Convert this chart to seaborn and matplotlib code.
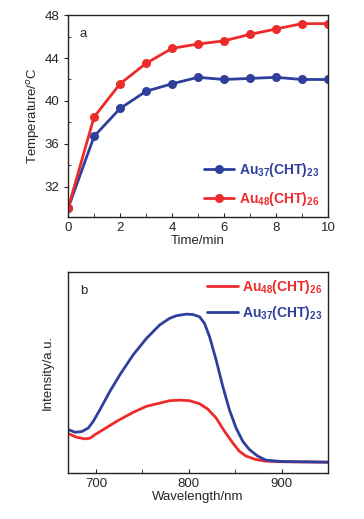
import matplotlib
matplotlib.use('Agg')
import matplotlib.pyplot as plt
from matplotlib.ticker import MultipleLocator
import pandas as pd
import seaborn as sns

# ---------------------------
# Data
# ---------------------------
time_min = [0, 1, 2, 3, 4, 5, 6, 7, 8, 9, 10]
temp_au37 = [30.0, 36.7, 39.3, 40.9, 41.6, 42.2, 42.0, 42.1, 42.2, 42.0, 42.0]
temp_au48 = [30.0, 38.5, 41.6, 43.5, 44.9, 45.3, 45.6, 46.2, 46.7, 47.2, 47.2]

wl_au37 = [670.3, 677.5, 684.6, 691.8, 697.1, 704.3, 715.0, 725.8, 740.1, 754.4,
           768.7, 779.4, 786.6, 797.3, 804.5, 811.6, 817.0, 822.4, 829.5, 836.7,
           843.8, 851.0, 858.2, 865.3, 874.3, 883.2, 901.1, 919.0, 949.5]
int_au37 = [0.215, 0.202, 0.205, 0.223, 0.256, 0.314, 0.405, 0.488, 0.587, 0.669,
            0.736, 0.769, 0.782, 0.790, 0.788, 0.777, 0.744, 0.678, 0.562, 0.430,
            0.314, 0.223, 0.157, 0.116, 0.083, 0.063, 0.056, 0.055, 0.053]

wl_au48 = [670.3, 679.2, 688.2, 693.6, 698.9, 707.9, 722.2, 740.1, 754.4, 768.7,
           779.4, 790.2, 800.9, 811.6, 820.6, 829.5, 838.5, 847.4, 854.6, 861.8,
           872.5, 883.2, 901.1, 949.5]
int_au48 = [0.195, 0.177, 0.169, 0.172, 0.190, 0.215, 0.256, 0.301, 0.331, 0.347,
            0.359, 0.362, 0.359, 0.344, 0.317, 0.273, 0.207, 0.149, 0.107, 0.083,
            0.066, 0.058, 0.055, 0.053]

lab37 = r'$\mathbf{Au_{37}(CHT)_{23}}$'
lab48 = r'$\mathbf{Au_{48}(CHT)_{26}}$'
blue = '#2F3F9C'
red = '#EE2B2B'

# ---------------------------
# Style
# ---------------------------
sns.set_style('ticks')
plt.rcParams['font.family'] = ['Liberation Sans', 'DejaVu Sans']
plt.rcParams['mathtext.fontset'] = 'custom'
plt.rcParams['mathtext.rm'] = 'Liberation Sans'
plt.rcParams['mathtext.bf'] = 'Liberation Sans:bold'
plt.rcParams['font.size'] = 9.5
plt.rcParams['axes.linewidth'] = 1.0
plt.rcParams['axes.edgecolor'] = '#222222'

fs = 9.5

fig = plt.figure(figsize=(3.64, 5.19), dpi=100)
ax1 = fig.add_axes([0.187, 0.582, 0.714, 0.389])
ax2 = fig.add_axes([0.187, 0.089, 0.714, 0.387])

# ---------------------------
# Panel a
# ---------------------------
df_t = pd.DataFrame({'t': time_min, 'a37': temp_au37, 'a48': temp_au48})
sns.lineplot(data=df_t, x='t', y='a37', ax=ax1, color=blue, marker='o',
             markersize=6.5, markeredgewidth=0, linewidth=2, label=lab37)
sns.lineplot(data=df_t, x='t', y='a48', ax=ax1, color=red, marker='o',
             markersize=6.5, markeredgewidth=0, linewidth=2, label=lab48)
ax1.set_xlim(0, 10)
ax1.set_ylim(29.2, 48)
ax1.set_yticks([32, 36, 40, 44, 48])
ax1.set_xticks([0, 2, 4, 6, 8, 10])
ax1.xaxis.set_minor_locator(MultipleLocator(1))
ax1.yaxis.set_minor_locator(MultipleLocator(2))
ax1.tick_params(axis='x', which='both', direction='in', length=3, labelsize=fs)
ax1.tick_params(axis='y', which='major', direction='out', length=3, labelsize=fs)
ax1.tick_params(axis='y', which='minor', direction='in', length=2)
ax1.set_xlabel('Time/min', fontsize=fs, labelpad=1)
ax1.set_ylabel(r'Temperature/$^o$C', fontsize=fs, labelpad=2)
ax1.text(0.045, 0.89, 'a', transform=ax1.transAxes, fontsize=fs)
ax1.legend(loc='lower right', frameon=False, fontsize=10, handlelength=2.2,
           labelspacing=0.8, handletextpad=0.3, borderaxespad=0.25,
           labelcolor='linecolor')

# ---------------------------
# Panel b
# ---------------------------
df48 = pd.DataFrame({'wl': wl_au48, 'I': int_au48})
df37 = pd.DataFrame({'wl': wl_au37, 'I': int_au37})
sns.lineplot(data=df48, x='wl', y='I', ax=ax2, color=red, linewidth=2, label=lab48)
sns.lineplot(data=df37, x='wl', y='I', ax=ax2, color=blue, linewidth=2, label=lab37)
ax2.set_xlim(670, 950)
ax2.set_ylim(0, 1.0)
ax2.set_xticks([700, 800, 900])
ax2.xaxis.set_minor_locator(MultipleLocator(50))
ax2.set_yticks([])
ax2.tick_params(axis='x', which='both', direction='in', length=3, labelsize=fs)
ax2.set_xlabel('Wavelength/nm', fontsize=fs, labelpad=1)
ax2.set_ylabel('Intensity/a.u.', fontsize=fs, labelpad=10)
ax2.text(0.045, 0.89, 'b', transform=ax2.transAxes, fontsize=fs)
ax2.legend(loc='upper right', frameon=False, fontsize=10, handlelength=2.2,
           labelspacing=0.6, handletextpad=0.3, borderaxespad=0.0,
           labelcolor='linecolor')

fig.savefig('out.png', dpi=100)
plt.close(fig)
